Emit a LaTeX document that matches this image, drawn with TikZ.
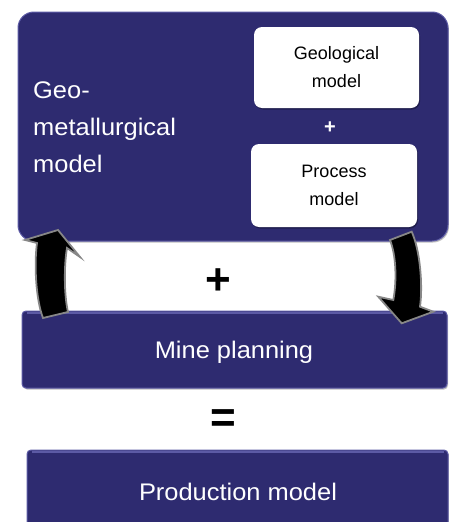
\documentclass[tikz,border=0pt]{standalone}
\usepackage{fontspec}
\setmainfont{Liberation Sans}
\newfontfamily\widesans[FakeStretch=1.06]{Liberation Sans}
\usetikzlibrary{shadows}
\definecolor{navy}{RGB}{46,43,112}
\definecolor{navyrim}{RGB}{92,90,165}
\definecolor{arrowrim}{RGB}{135,135,135}
\begin{document}
\begin{tikzpicture}[x=1pt,y=-1pt,
  navybox/.style={fill=navy, draw=navyrim, line width=1pt, inner sep=0pt,
    drop shadow={shadow xshift=1pt, shadow yshift=-1.5pt, fill=black, opacity=0.25}},
  whitebox/.style={fill=white, inner sep=0pt, rounded corners=8pt, align=center,
    font=\fontsize{18}{28}\selectfont,
    drop shadow={shadow xshift=1pt, shadow yshift=-1.5pt, fill=black, opacity=0.3}},
  bigtext/.style={text=white, font=\widesans\fontsize{24}{37}\selectfont},
  opsign/.style={font=\fontsize{44}{44}\bfseries\selectfont, inner sep=0pt},
  blockarrow/.style={fill=black, draw=arrowrim, line width=1.8pt, line join=miter}
]
\useasboundingbox (0,0) rectangle (449,522);
\clip (0,0) rectangle (449,522);

% main geo-metallurgical box
\node[navybox, rounded corners=16pt, minimum width=430pt, minimum height=229pt] (geomet) at (233,126.5) {};
\node[bigtext, align=left, anchor=west, inner sep=0pt] (geomettext) at (33,127.5) {Geo-\\metallurgical\\model};

\node[whitebox, minimum width=165pt, minimum height=81pt] (geo) at (336.5,67.5) {Geological\\model};
\node[whitebox, minimum width=166pt, minimum height=83pt] (proc) at (334,185.5) {Process\\model};
\node[text=white, font=\fontsize{20}{20}\bfseries\selectfont, inner sep=0pt] (plusin) at (330,127.5) {+};

% mine planning
\node[navybox, rounded corners=4pt, minimum width=425pt, minimum height=77pt] (mine) at (234.5,349.5) {};
\node[bigtext, anchor=base, inner sep=0pt] (minetext) at (234,358) {Mine planning};
\draw[navyrim, line width=2pt] ([xshift=5pt,yshift=-2.5pt]mine.north west) -- ([xshift=-5pt,yshift=-2.5pt]mine.north east);

% production model
\node[navybox, rounded corners=4pt, minimum width=421pt, minimum height=80pt] (prod) at (237.5,490) {};
\node[bigtext, anchor=base, inner sep=0pt] (prodtext) at (238,500) {Production model};
\draw[navyrim, line width=2pt] ([xshift=5pt,yshift=-2.5pt]prod.north west) -- ([xshift=-5pt,yshift=-2.5pt]prod.north east);

% operators
\node[opsign] (plus) at (218.5,281.5) {+};
\node[opsign] (equals) at (223.5,421) {=};

% left curved arrow (up)
\draw[blockarrow] (43,318) .. controls (36,300) and (34,265) .. (37,243)
  -- (25,240) -- (58,230) -- (80,257) -- (67,248)
  .. controls (64,265) and (64,295) .. (68,312) -- cycle;

% right curved arrow (down)
\draw[blockarrow] (390,240) -- (411.7,231.7)
  .. controls (420,250) and (423,285) .. (420,306.7)
  -- (433.3,311.7) -- (401.7,323.3) -- (378.3,296.7) -- (393.3,300)
  .. controls (397,280) and (396,255) .. cycle;
\end{tikzpicture}
\end{document}
